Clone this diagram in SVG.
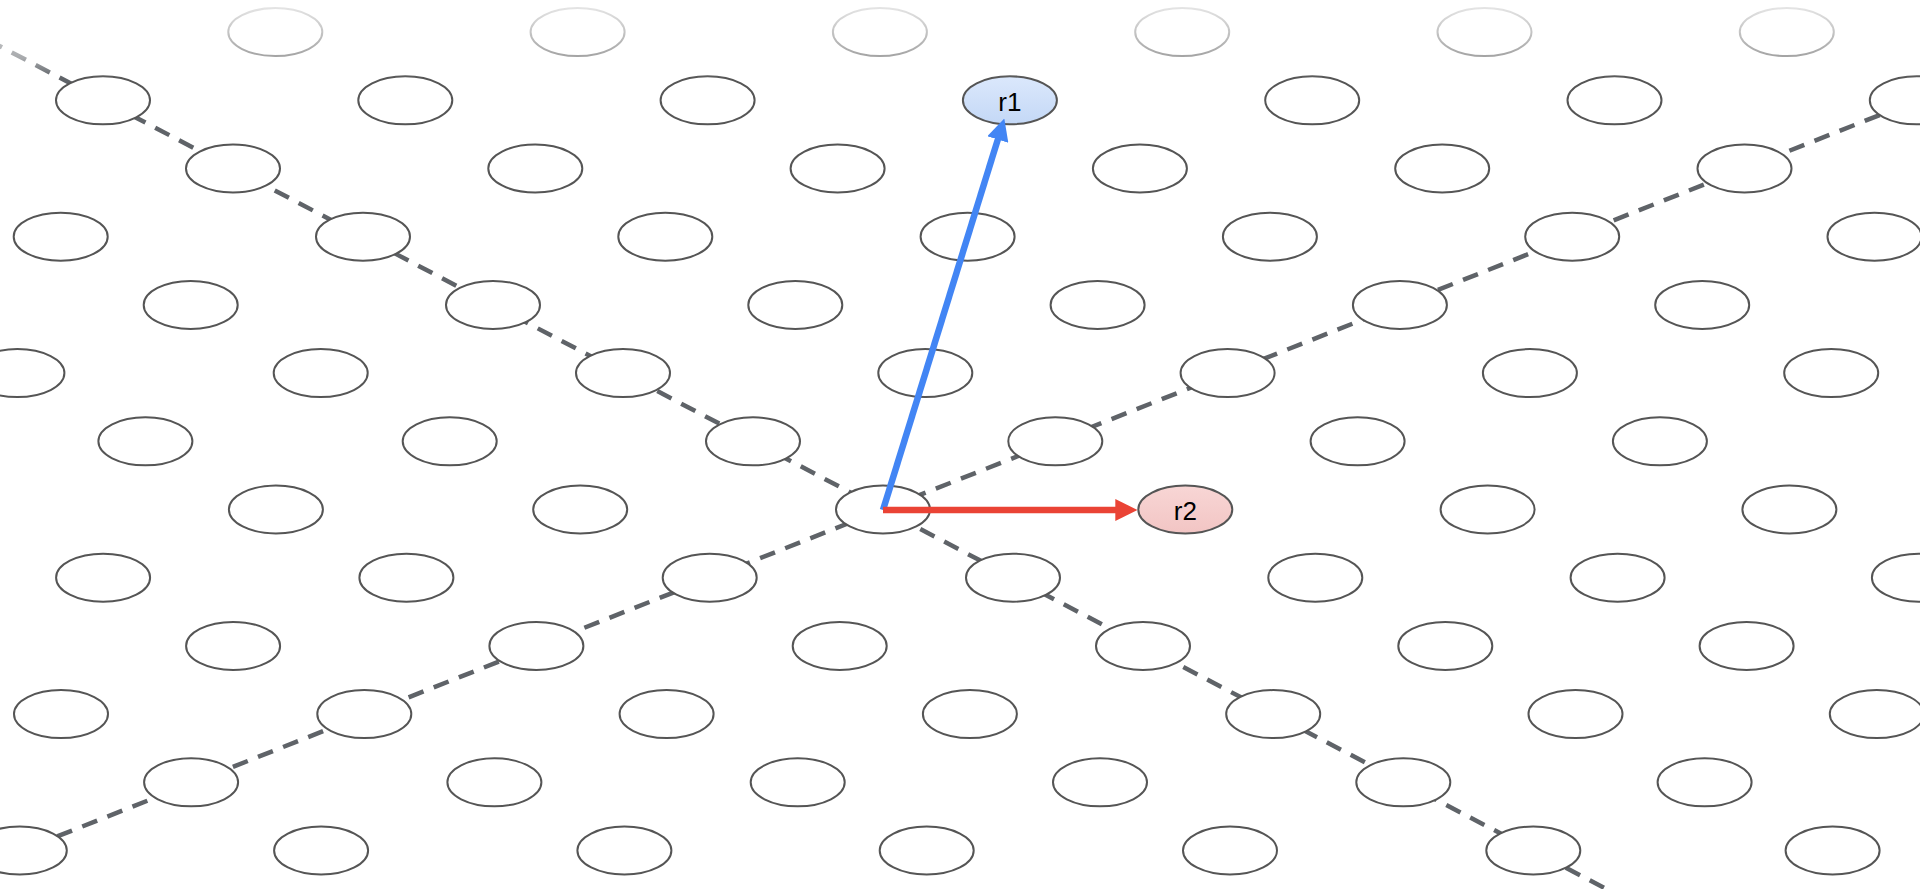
<svg xmlns="http://www.w3.org/2000/svg" width="1920" height="889" viewBox="0 0 1920 889">
<style>
.lat{fill:none;stroke:#5f6368;stroke-width:4.5;stroke-dasharray:16 11}
.node ellipse{fill:#fff;stroke:#555;stroke-width:2}
.lbl{font-family:"Liberation Sans",Arial,sans-serif;font-size:26px;fill:#000;text-anchor:middle}
.vec{fill:none;stroke-width:6.5}
</style>
<defs>
<marker id="ah-blue" viewBox="0 0 22 22" refX="2" refY="11" markerWidth="22" markerHeight="22" markerUnits="userSpaceOnUse" orient="auto"><path d="M0,0 L22,11 L0,22 z" fill="#4285f4"/></marker>
<marker id="ah-red" viewBox="0 0 22 22" refX="2" refY="11" markerWidth="22" markerHeight="22" markerUnits="userSpaceOnUse" orient="auto"><path d="M0,0 L22,11 L0,22 z" fill="#ea4335"/></marker>
<linearGradient id="g-r1" x1="0" y1="0" x2="0" y2="1"><stop offset="0" stop-color="#dbe8fc"/><stop offset="1" stop-color="#c4d8f6"/></linearGradient>
<linearGradient id="g-r2" x1="0" y1="0" x2="0" y2="1"><stop offset="0" stop-color="#f8d6d5"/><stop offset="1" stop-color="#f2c5c4"/></linearGradient>
<linearGradient id="fade" gradientUnits="userSpaceOnUse" x1="0" y1="0" x2="0" y2="78"><stop offset="0" stop-color="#fff" stop-opacity="0.9"/><stop offset="0.75" stop-color="#fff" stop-opacity="0.45"/><stop offset="1" stop-color="#fff" stop-opacity="0"/></linearGradient>
</defs>
<rect width="1920" height="889" fill="#fff"/>
<g id="lattice-lines">
<path class="lat" d="M-60,14.8 L1700,938.1"/>
<path class="lat" d="M1980,75.3 L-60,882.8"/>
</g>
<g id="nodes" class="node">
<g id="n-m7-1"><ellipse cx="275.3" cy="32.1" rx="47" ry="24"/></g>
<g id="n-m7-2"><ellipse cx="577.6" cy="32.1" rx="47" ry="24"/></g>
<g id="n-m7-3"><ellipse cx="879.9" cy="32.1" rx="47" ry="24"/></g>
<g id="n-m7-4"><ellipse cx="1182.2" cy="32.1" rx="47" ry="24"/></g>
<g id="n-m7-5"><ellipse cx="1484.5" cy="32.1" rx="47" ry="24"/></g>
<g id="n-m7-6"><ellipse cx="1786.8" cy="32.1" rx="47" ry="24"/></g>
<g id="n-m6-0"><ellipse cx="103" cy="100.3" rx="47" ry="24"/></g>
<g id="n-m6-1"><ellipse cx="405.3" cy="100.3" rx="47" ry="24"/></g>
<g id="n-m6-2"><ellipse cx="707.6" cy="100.3" rx="47" ry="24"/></g>
<g id="n-m6-4"><ellipse cx="1312.2" cy="100.3" rx="47" ry="24"/></g>
<g id="n-m6-5"><ellipse cx="1614.5" cy="100.3" rx="47" ry="24"/></g>
<g id="n-m6-6"><ellipse cx="1916.8" cy="100.3" rx="47" ry="24"/></g>
<g id="n-m5-0"><ellipse cx="233" cy="168.5" rx="47" ry="24"/></g>
<g id="n-m5-1"><ellipse cx="535.3" cy="168.5" rx="47" ry="24"/></g>
<g id="n-m5-2"><ellipse cx="837.6" cy="168.5" rx="47" ry="24"/></g>
<g id="n-m5-3"><ellipse cx="1139.9" cy="168.5" rx="47" ry="24"/></g>
<g id="n-m5-4"><ellipse cx="1442.2" cy="168.5" rx="47" ry="24"/></g>
<g id="n-m5-5"><ellipse cx="1744.5" cy="168.5" rx="47" ry="24"/></g>
<g id="n-m4-0"><ellipse cx="60.7" cy="236.7" rx="47" ry="24"/></g>
<g id="n-m4-1"><ellipse cx="363" cy="236.7" rx="47" ry="24"/></g>
<g id="n-m4-2"><ellipse cx="665.3" cy="236.7" rx="47" ry="24"/></g>
<g id="n-m4-3"><ellipse cx="967.6" cy="236.7" rx="47" ry="24"/></g>
<g id="n-m4-4"><ellipse cx="1269.9" cy="236.7" rx="47" ry="24"/></g>
<g id="n-m4-5"><ellipse cx="1572.2" cy="236.7" rx="47" ry="24"/></g>
<g id="n-m4-6"><ellipse cx="1874.5" cy="236.7" rx="47" ry="24"/></g>
<g id="n-m3-0"><ellipse cx="190.7" cy="304.9" rx="47" ry="24"/></g>
<g id="n-m3-1"><ellipse cx="493" cy="304.9" rx="47" ry="24"/></g>
<g id="n-m3-2"><ellipse cx="795.3" cy="304.9" rx="47" ry="24"/></g>
<g id="n-m3-3"><ellipse cx="1097.6" cy="304.9" rx="47" ry="24"/></g>
<g id="n-m3-4"><ellipse cx="1399.9" cy="304.9" rx="47" ry="24"/></g>
<g id="n-m3-5"><ellipse cx="1702.2" cy="304.9" rx="47" ry="24"/></g>
<g id="n-m2-0"><ellipse cx="17.4" cy="373.1" rx="47" ry="24"/></g>
<g id="n-m2-1"><ellipse cx="320.7" cy="373.1" rx="47" ry="24"/></g>
<g id="n-m2-2"><ellipse cx="623" cy="373.1" rx="47" ry="24"/></g>
<g id="n-m2-3"><ellipse cx="925.3" cy="373.1" rx="47" ry="24"/></g>
<g id="n-m2-4"><ellipse cx="1227.6" cy="373.1" rx="47" ry="24"/></g>
<g id="n-m2-5"><ellipse cx="1529.9" cy="373.1" rx="47" ry="24"/></g>
<g id="n-m2-6"><ellipse cx="1831.2" cy="373.1" rx="47" ry="24"/></g>
<g id="n-m1-0"><ellipse cx="145.4" cy="441.3" rx="47" ry="24"/></g>
<g id="n-m1-1"><ellipse cx="449.7" cy="441.3" rx="47" ry="24"/></g>
<g id="n-m1-2"><ellipse cx="753" cy="441.3" rx="47" ry="24"/></g>
<g id="n-m1-3"><ellipse cx="1055.3" cy="441.3" rx="47" ry="24"/></g>
<g id="n-m1-4"><ellipse cx="1357.6" cy="441.3" rx="47" ry="24"/></g>
<g id="n-m1-5"><ellipse cx="1659.9" cy="441.3" rx="47" ry="24"/></g>
<g id="n-0-0"><ellipse cx="275.9" cy="509.5" rx="47" ry="24"/></g>
<g id="n-0-1"><ellipse cx="580.2" cy="509.5" rx="47" ry="24"/></g>
<g id="origin"><ellipse cx="883" cy="509.5" rx="47" ry="24"/></g>
<g id="n-0-4"><ellipse cx="1487.6" cy="509.5" rx="47" ry="24"/></g>
<g id="n-0-5"><ellipse cx="1789.4" cy="509.5" rx="47" ry="24"/></g>
<g id="n-1-0"><ellipse cx="103.1" cy="577.7" rx="47" ry="24"/></g>
<g id="n-1-1"><ellipse cx="406.4" cy="577.7" rx="47" ry="24"/></g>
<g id="n-1-2"><ellipse cx="709.7" cy="577.7" rx="47" ry="24"/></g>
<g id="n-1-3"><ellipse cx="1013" cy="577.7" rx="47" ry="24"/></g>
<g id="n-1-4"><ellipse cx="1315.3" cy="577.7" rx="47" ry="24"/></g>
<g id="n-1-5"><ellipse cx="1617.6" cy="577.7" rx="47" ry="24"/></g>
<g id="n-1-6"><ellipse cx="1918.9" cy="577.7" rx="47" ry="24"/></g>
<g id="n-2-0"><ellipse cx="233.1" cy="645.9" rx="47" ry="24"/></g>
<g id="n-2-1"><ellipse cx="536.4" cy="645.9" rx="47" ry="24"/></g>
<g id="n-2-2"><ellipse cx="839.7" cy="645.9" rx="47" ry="24"/></g>
<g id="n-2-3"><ellipse cx="1143" cy="645.9" rx="47" ry="24"/></g>
<g id="n-2-4"><ellipse cx="1445.3" cy="645.9" rx="47" ry="24"/></g>
<g id="n-2-5"><ellipse cx="1746.6" cy="645.9" rx="47" ry="24"/></g>
<g id="n-3-0"><ellipse cx="61" cy="714.1" rx="47" ry="24"/></g>
<g id="n-3-1"><ellipse cx="364.3" cy="714.1" rx="47" ry="24"/></g>
<g id="n-3-2"><ellipse cx="666.6" cy="714.1" rx="47" ry="24"/></g>
<g id="n-3-3"><ellipse cx="969.9" cy="714.1" rx="47" ry="24"/></g>
<g id="n-3-4"><ellipse cx="1273.2" cy="714.1" rx="47" ry="24"/></g>
<g id="n-3-5"><ellipse cx="1575.5" cy="714.1" rx="47" ry="24"/></g>
<g id="n-3-6"><ellipse cx="1876.8" cy="714.1" rx="47" ry="24"/></g>
<g id="n-4-0"><ellipse cx="191.1" cy="782.3" rx="47" ry="24"/></g>
<g id="n-4-1"><ellipse cx="494.4" cy="782.3" rx="47" ry="24"/></g>
<g id="n-4-2"><ellipse cx="797.7" cy="782.3" rx="47" ry="24"/></g>
<g id="n-4-3"><ellipse cx="1100" cy="782.3" rx="47" ry="24"/></g>
<g id="n-4-4"><ellipse cx="1403.3" cy="782.3" rx="47" ry="24"/></g>
<g id="n-4-5"><ellipse cx="1704.6" cy="782.3" rx="47" ry="24"/></g>
<g id="n-5-0"><ellipse cx="19.8" cy="850.5" rx="47" ry="24"/></g>
<g id="n-5-1"><ellipse cx="321.1" cy="850.5" rx="47" ry="24"/></g>
<g id="n-5-2"><ellipse cx="624.4" cy="850.5" rx="47" ry="24"/></g>
<g id="n-5-3"><ellipse cx="926.7" cy="850.5" rx="47" ry="24"/></g>
<g id="n-5-4"><ellipse cx="1230" cy="850.5" rx="47" ry="24"/></g>
<g id="n-5-5"><ellipse cx="1533.3" cy="850.5" rx="47" ry="24"/></g>
<g id="n-5-6"><ellipse cx="1832.6" cy="850.5" rx="47" ry="24"/></g>
<g id="r1"><ellipse cx="1009.9" cy="100.3" rx="47" ry="24" style="fill:url(#g-r1)"/><text class="lbl" x="1009.9" y="110.5">r1</text></g>
<g id="r2"><ellipse cx="1185.3" cy="509.5" rx="47" ry="24" style="fill:url(#g-r2)"/><text class="lbl" x="1185.3" y="519.5">r2</text></g>
</g>
<rect id="top-fade" x="0" y="0" width="1920" height="78" fill="url(#fade)"/>
<g id="vectors">
<path class="vec" stroke="#4285f4" d="M883,510 L998.4,137.6" marker-end="url(#ah-blue)"/>
<path class="vec" stroke="#ea4335" d="M883,510 L1117.3,510" marker-end="url(#ah-red)"/>
</g>
</svg>
